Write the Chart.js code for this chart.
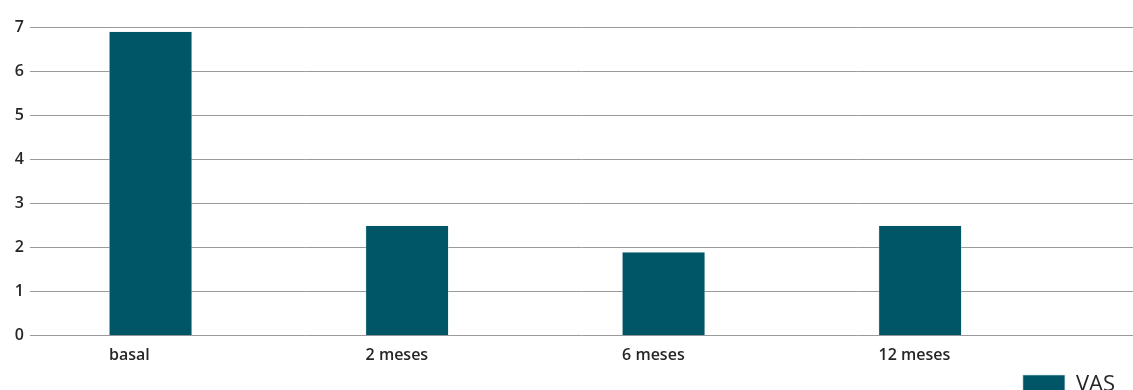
<!DOCTYPE html>
<html>
<head>
<meta charset="utf-8">
<script src="https://cdn.jsdelivr.net/npm/chart.js@4.4.0/dist/chart.umd.min.js"></script>
<style>
  html, body { margin: 0; padding: 0; background: #fff; overflow: hidden; }
  #wrap { position: relative; width: 1133px; height: 406px; }
</style>
</head>
<body>
<div id="wrap"><canvas id="vasChart"></canvas></div>
<script>
// VAS score per follow-up visit
const categories = ['basal', '2 meses', '6 meses', '12 meses'];
const vasValues = [6.9, 2.5, 1.9, 2.5];
const yTicks = [0, 1, 2, 3, 4, 5, 6, 7];

const barColor = '#005566';
const textColor = '#262626';

const points = vasValues.map((v, i) => ({ x: i, y: v }));

// pull the legend in a little from the right edge
const legendShift = {
    id: 'legendShift',
    afterLayout(chart) {
        chart.legend.left -= 14;
        chart.legend.right -= 14;
    }
};

const ctx = document.getElementById('vasChart').getContext('2d');

new Chart(ctx, {
    type: 'bar',
    data: {
        datasets: [{
            label: 'VAS',
            data: points,
            backgroundColor: barColor,
            borderColor: '#cfe0e4',
            borderWidth: 0.6,
            barPercentage: 0.324,
            categoryPercentage: 1.0
        }]
    },
    plugins: [legendShift],
    options: {
        responsive: true,
        maintainAspectRatio: false,
        animation: false,
        layout: { padding: { top: 27, right: 0, left: 0, bottom: 0 } },
        plugins: {
            tooltip: { enabled: false },
            legend: {
                position: 'bottom',
                align: 'end',
                labels: {
                    boxWidth: 42,
                    boxHeight: 20,
                    padding: 4,
                    color: textColor,
                    font: { family: 'Open Sans', size: 22, weight: '500' }
                }
            }
        },
        scales: {
            x: {
                type: 'linear',
                offset: false,
                min: -0.47,
                max: 3.83,
                grid: { display: false, drawTicks: false, offset: false },
                border: { display: false },
                afterBuildTicks: (scale) => {
                    scale.ticks = categories.map((c, i) => ({ value: i }));
                },
                afterFit: (scale) => { scale.height -= 5; },
                ticks: {
                    padding: 10,
                    align: 'start',
                    labelOffset: -41.5,
                    color: textColor,
                    font: { family: 'Open Sans', size: 16, weight: '600' },
                    callback: (value) => categories[value] ?? ''
                }
            },
            y: {
                min: 0,
                max: 7,
                afterBuildTicks: (scale) => {
                    scale.ticks = yTicks.map(v => ({ value: v }));
                },
                afterFit: (scale) => { scale.width = 30; },
                grid: { color: '#9a9a9a', lineWidth: 1, drawTicks: false },
                border: { display: false },
                ticks: {
                    padding: 6,
                    color: textColor,
                    font: { family: 'Open Sans', size: 16, weight: '600' }
                }
            }
        }
    }
});
</script>
</body>
</html>
